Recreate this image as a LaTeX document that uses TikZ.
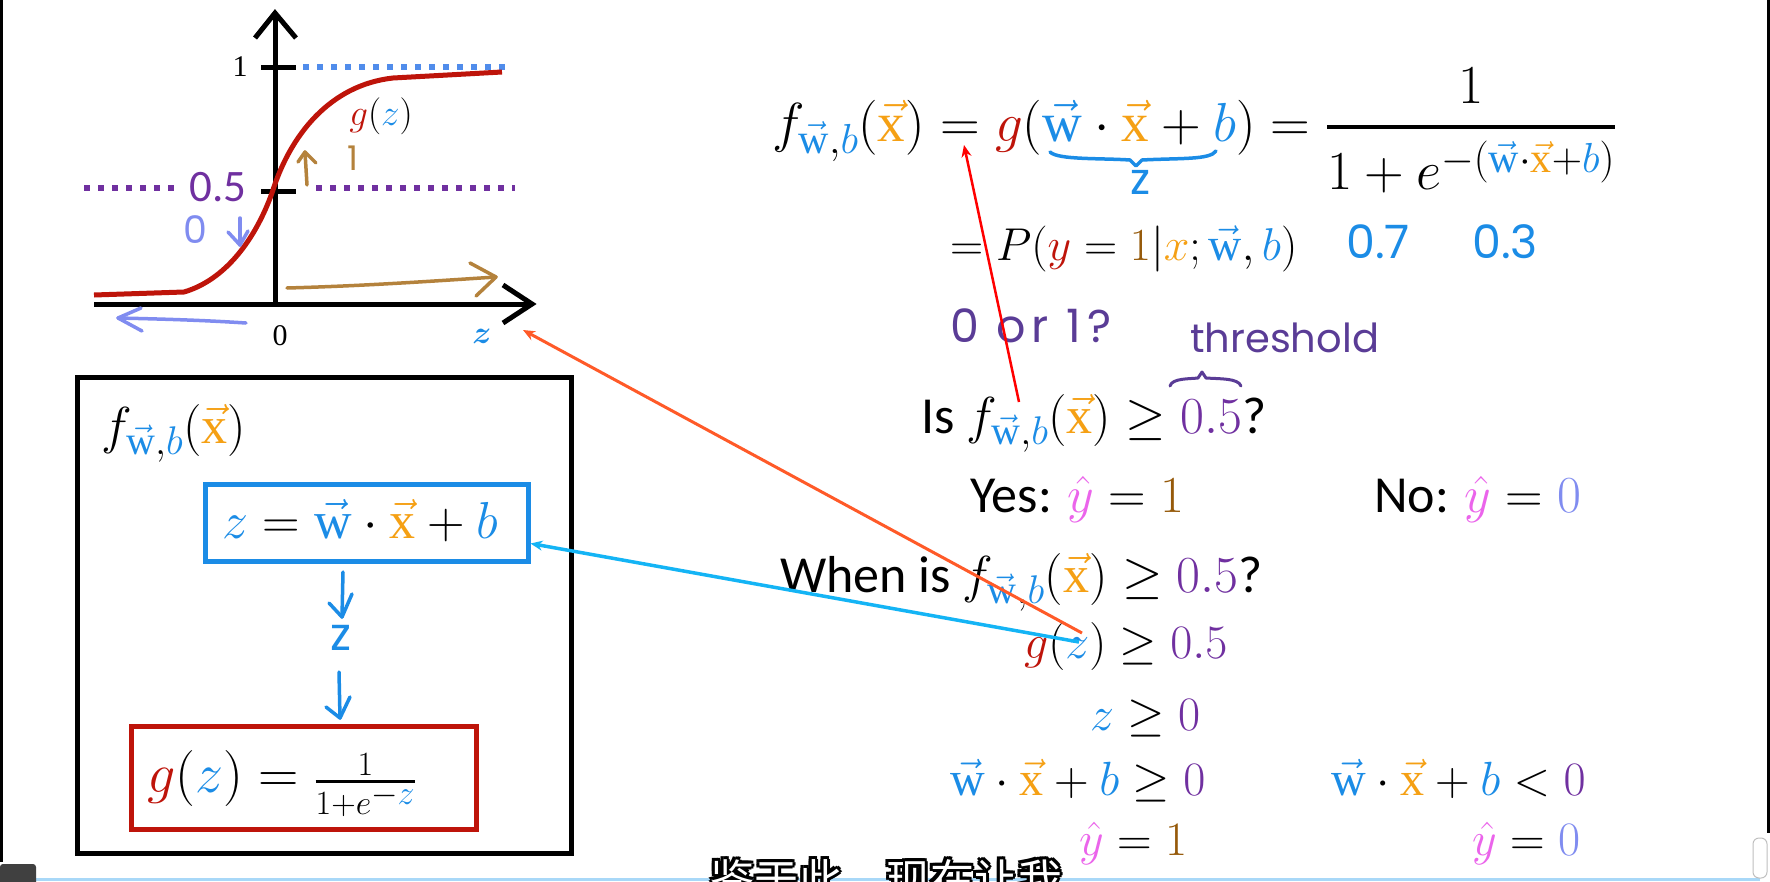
\RequirePackage{fix-cm}
\documentclass[tikz,border=0pt]{standalone}
\usepackage{amsmath}
\usepackage{bm}
\usepackage{fontspec}
\setmainfont{Carlito}
\newfontfamily\handfont{Poppins}
\newfontfamily\vecfont{Liberation Serif}
\newfontfamily\cjkfont{Noto Sans CJK SC}
\usetikzlibrary{arrows.meta,positioning,calc}

\DeclareMathSizes{46}{46}{35}{27}
\DeclareMathSizes{48}{48}{37}{28}
\DeclareMathSizes{52}{52}{40}{30}
\DeclareMathSizes{55}{55}{42}{32}
\DeclareMathSizes{56}{56}{43}{34}

\definecolor{cw}{RGB}{27,140,230}
\definecolor{cx}{RGB}{245,160,20}
\definecolor{cg}{RGB}{190,20,10}
\definecolor{cpur}{RGB}{112,48,160}
\definecolor{cbrn}{RGB}{150,90,10}
\definecolor{cpink}{RGB}{235,100,235}
\definecolor{clav}{RGB}{128,140,240}
\definecolor{ctan}{RGB}{180,130,60}
\definecolor{chand}{RGB}{90,60,150}
\definecolor{cdot}{RGB}{80,140,235}
\definecolor{corg}{RGB}{255,90,40}
\definecolor{ccyan}{RGB}{20,180,245}
\definecolor{cred}{RGB}{255,0,0}
\definecolor{csub}{RGB}{168,216,248}

\newcommand{\wv}{{\color{cw}\vec{\text{\vecfont w}}}}
\newcommand{\xv}{{\color{cx}\vec{\text{\vecfont x}}}}
\newcommand{\bb}{{\color{cw}b}}
\newcommand{\zz}{{\color{cw}z}}
\newcommand{\fwb}{f_{\wv,\bb}(\xv)}
\newcommand{\yhat}{{\color{cpink}\hat{y}}}
\newcommand{\subtxt}{鉴于此，现在让我}

\begin{document}
\begin{tikzpicture}[x=1pt,y=-1pt,
		axis/.style={line width=5pt},
		dotline/.style={line width=6pt, dash pattern=on 6pt off 8pt},
		hand/.style={line width=3.5pt, line cap=round, line join=round},
		mth/.style={inner sep=0pt, anchor=base west, font=\fontsize{48}{54}\selectfont},
		big/.style={mth, font=\fontsize{52}{58}\selectfont},
		hnd/.style={inner sep=0pt, anchor=base west, font=\handfont\fontsize{46}{50}\selectfont},
		link/.style={line width=3pt, -{Stealth[length=12pt,width=10pt]}},
		boxed/.style={draw, line width=5pt, inner sep=0pt}]
		\useasboundingbox[fill=white] (0,0) rectangle (1770,881);
		% screen frame
		\fill[black] (0,0) rectangle (3,862);
		\fill[black] (1767,0) rectangle (1770,833);
		\fill[csub] (36,878) rectangle (1760,881);
		\fill[black!75, rounded corners=3pt] (0,864) rectangle (36,886);
		\draw[black!25, fill=white, rounded corners=6pt, line width=1pt] (1753,838) rectangle (1767,878);
		% sigmoid plot
		\draw[dotline, draw=cdot] (303,67) -- (505,67);
		\draw[dotline, draw=cpur] (84,188) -- (178,188);
		\draw[dotline, draw=cpur] (316,188) -- (515,188);
		\draw[axis] (94,304) -- (530,304);
		\draw[axis] (503,285) -- (532,304) -- (503,323);
		\draw[axis] (275,304) -- (275,15);
		\draw[axis] (255,38) -- (275,13) -- (296,38);
		\draw[axis] (261,67) -- (296,67);
		\draw[axis] (261,191) -- (296,191);
		\draw[line width=5pt, draw=cg, line join=round] (94,295) -- (184,292) .. controls (225,280) and (255,240) .. (272,193) .. controls (290,135) and (330,85) .. (393,78) -- (502,72);
		\node[inner sep=0pt, font=\vecfont\fontsize{30}{30}\selectfont] (one) at (240,67) {1};
		\node[inner sep=0pt, font=\vecfont\fontsize{30}{30}\selectfont] (zero) at (280,336) {0};
		\node[inner sep=0pt, text=cpur, font=\fontsize{45}{45}\selectfont] (half) at (218,187) {0.5};
		\node[inner sep=0pt, font=\fontsize{37}{37}\selectfont] (gz) at (381,116) {${\color{cg}g}(\zz)$};
		\node[inner sep=0pt, text=cw, font=\fontsize{32}{32}\selectfont] (zlab) at (482,336) {$\bm{z}$};
		\draw[hand, ctan] (307,185) -- (305,152);
		\draw[hand, ctan] (298,162) -- (305,152) -- (316,163);
		\node[inner sep=0pt, text=ctan, font=\handfont\fontsize{34}{34}\selectfont] (onehand) at (353,158) {1};
		\node[inner sep=0pt, text=clav, font=\handfont\fontsize{38}{38}\selectfont] (zerohand) at (195,230) {0};
		\draw[hand, clav] (240,218) -- (240,245);
		\draw[hand, clav] (228,232) -- (240,245) -- (248,231);
		\draw[hand, ctan] (287,288) .. controls (360,286) and (420,282) .. (496,277);
		\draw[hand, ctan] (470,263) -- (496,277) -- (476,296);
		\draw[hand, clav] (246,323) .. controls (200,320) and (160,319) .. (118,318);
		\draw[hand, clav] (141,308) -- (118,318) -- (142,331);
		% left box
		\node[boxed, minimum width=494pt, minimum height=476pt] (fbox) at (324,615) {};
		\node[boxed, draw=cw, minimum width=323pt, minimum height=77pt] (zbox) at (366.5,522.5) {};
		\node[boxed, draw=cg, minimum width=345pt, minimum height=103pt] (gbox) at (303.5,777.5) {};
		\node[big] (ftitle) at (101,443) {$\fwb$};
		\node[big] (zdef) at (222,538) {$\zz = \wv\cdot\xv+\bb$};
		\node[mth, font=\fontsize{56}{60}\selectfont] (gdef) at (147,792) {${\color{cg}g}(\zz) = \genfrac{}{}{2.5pt}{2}{1}{1+e^{-\zz}}$};
		\draw[hand, cw] (343,572) -- (342,617);
		\draw[hand, cw] (329,603) -- (342,617) -- (352,594);
		\node[inner sep=0pt, text=cw, font=\handfont\fontsize{46}{46}\selectfont] (zhand) at (341,638) {z};
		\draw[hand, cw] (339,672) -- (340,718);
		\draw[hand, cw] (326,707) -- (340,718) -- (350,697);
		% right side
		\node[mth, font=\fontsize{55}{60}\selectfont] (topf) at (772,141) {$\fwb = {\color{cg}g}(\wv\cdot\xv+\bb) = \genfrac{}{}{4pt}{0}{1}{1+e^{-(\wv\cdot\xv+\bb)}}$};
		\draw[hand, cw] (1050,152) .. controls (1058,160) and (1100,158) .. (1130,160) -- (1136,166) -- (1142,160) .. controls (1180,158) and (1210,160) .. (1216,151);
		\node[inner sep=0pt, text=cw, font=\handfont\fontsize{44}{44}\selectfont] (ztop) at (1140,182) {z};
		\node[mth, font=\fontsize{46}{52}\selectfont] (prob) at (950,260) {$= P({\color{cg}y} = {\color{cbrn}1}|{\color{cx}x};\wv,\bb)$};
		\node[hnd, text=cw] (p07) at (1346,258) {0.7};
		\node[hnd, text=cw] (p03) at (1472,258) {0.3};
		\node[hnd, text=chand, font=\handfont\addfontfeature{LetterSpace=12}\fontsize{46}{50}\selectfont] (zeroone) at (950,342) {0 or 1?};
		\node[hnd, text=chand, font=\handfont\fontsize{40}{46}\selectfont] (thr) at (1190,352) {threshold};
		\draw[hand, chand, line width=3pt] (1170,386) .. controls (1172,378) and (1190,379) .. (1198,378) -- (1202,372) -- (1206,378) .. controls (1220,379) and (1238,378) .. (1241,386);
		\node[big] (isq) at (921,433) {Is $\fwb \geq {\color{cpur}0.5}$?};
		\node[big] (yes) at (970,512) {Yes: $\yhat = {\color{cbrn}1}$};
		\node[big] (no) at (1374,512) {No: $\yhat = {\color{clav}0}$};
		\node[big] (whenq) at (780,592) {When is $\fwb \geq {\color{cpur}0.5}$?};
		\node[mth] (gge) at (1024,658) {${\color{cg}g}(\zz) \geq {\color{cpur}0.5}$};
		\node[mth] (zge) at (1090,730) {$\zz \geq {\color{cpur}0}$};
		\node[mth] (lge) at (950,795) {$\wv\cdot\xv+\bb \geq {\color{cpur}0}$};
		\node[mth] (llt) at (1331,795) {$\wv\cdot\xv+\bb < {\color{cpur}0}$};
		\node[mth] (yone) at (1079,855) {$\yhat = {\color{cbrn}1}$};
		\node[mth] (yzero) at (1472,855) {$\yhat = {\color{clav}0}$};
		% subtitle
		\foreach \dx/\dy [count=\i] in {-2.5/-2.5,0/-3,2.5/-2.5,-3/0,3/0,-2.5/2.5,0/3,2.5/2.5}
			\node[inner sep=0pt, anchor=base west, text=black, font=\cjkfont\fontsize{44}{44}\selectfont] (subo\i) at (710+\dx,896+\dy) {\subtxt};
		\node[inner sep=0pt, anchor=base west, text=white, font=\cjkfont\fontsize{44}{44}\selectfont] (sub) at (710,896) {\subtxt};
		% links
		\coordinate (isf) at (1019,402);
		\coordinate (eqs) at (964,145);
		\coordinate (gzo) at (1082,633);
		\coordinate (gzc) at (1079,642);
		\coordinate (zend) at (523,330);
		\draw[link, cred, line width=2.5pt] (isf) -- (eqs);
		\draw[link, corg] (gzo) -- (zend);
		\draw[link, ccyan, line width=3.5pt] (gzc) -- ([yshift=20pt]zbox.south east);
\end{tikzpicture}
\end{document}
